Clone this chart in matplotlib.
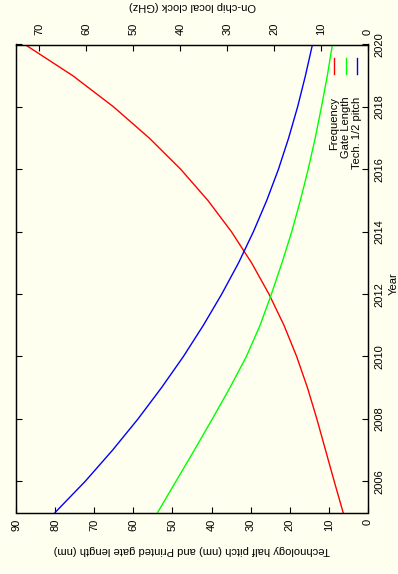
import matplotlib
matplotlib.use("Agg")
import matplotlib.pyplot as plt
from matplotlib.lines import Line2D

plt.rcParams['font.family'] = ['Liberation Sans', 'DejaVu Sans']

years = [2005, 2006, 2007, 2008, 2009, 2010, 2011, 2012, 2013, 2014,
         2015, 2016, 2017, 2018, 2019, 2020]
frequency_ghz = [5.3, 7.2, 9.05, 10.9, 12.9, 15.2, 17.9, 21.1, 24.8, 29.1,
                 34.1, 39.9, 46.6, 54.2, 62.9, 73.1]
gate_length_nm = [53.8, 49.1, 44.4, 39.8, 35.3, 31.1, 27.6, 24.7, 22.0, 19.5,
                  17.3, 15.3, 13.5, 11.9, 10.4, 9.1]
half_pitch_nm = [80.0, 72.3, 65.3, 58.8, 52.8, 47.2, 42.1, 37.4, 33.1, 29.3,
                 25.9, 22.9, 20.3, 18.0, 16.0, 14.2]
series_labels = ["Frequency", "Gate Length", "Tech. 1/2 pitch"]
series_colors = ["#ff0000", "#00ff00", "#0000ff"]
year_ticks = [2006, 2008, 2010, 2012, 2014, 2016, 2018, 2020]
nm_ticks = [0, 10, 20, 30, 40, 50, 60, 70, 80, 90]
ghz_ticks = [0, 10, 20, 30, 40, 50, 60, 70]

bg = "#fffff0"
W, H = 398, 574
fs = 8

fig = plt.figure(figsize=(W / 100, H / 100), dpi=100, facecolor=bg)
L, R, T, B = 16, 368, 44.5, 512.5
ax = fig.add_axes([L / W, (H - B) / H, (R - L) / W, (B - T) / H])
ax.set_facecolor(bg)
ax2 = ax.twiny()

ax2.plot(frequency_ghz, years, color=series_colors[0], lw=1.0)
ax.plot(gate_length_nm, years, color=series_colors[1], lw=1.0)
ax.plot(half_pitch_nm, years, color=series_colors[2], lw=1.0)
ax.set_zorder(2)
ax2.set_zorder(1)
ax.patch.set_visible(False)
ax2.patch.set_visible(True)
ax2.patch.set_facecolor(bg)

ax.set_xlim(90, 0)
ax.set_ylim(2005, 2020)
ax2.set_xlim(75, 0)

ax.set_xticks(nm_ticks)
ax.set_yticks(year_ticks)
ax2.set_xticks(ghz_ticks)

ax.tick_params(axis='x', direction='in', length=4.5, width=0.8, labelsize=fs,
               labelrotation=90, pad=4.5, bottom=True, top=False)
ax.tick_params(axis='y', direction='in', length=4.5, width=0.8, labelsize=fs,
               labelrotation=90, pad=4.5, left=True, right=True,
               labelleft=False, labelright=True)
ax2.tick_params(axis='x', direction='in', length=4.5, width=0.8, labelsize=fs,
                labelrotation=90, pad=6.5, top=True, bottom=False)
for lab in ax.get_yticklabels():
    lab.set_va('center')

for a in (ax, ax2):
    for s in a.spines.values():
        s.set_linewidth(0.9)
        s.set_color('black')

ax.set_xlabel("Technology half pitch (nm) and Printed gate length (nm)",
              fontsize=fs, rotation=180, va='center', ha='center')
ax.xaxis.set_label_coords(0.5, (B - 550) / (B - T))
ax2.set_xlabel("On-chip local clock (GHz)", fontsize=fs, rotation=180,
               va='center', ha='center')
ax2.xaxis.set_label_position('top')
ax2.xaxis.set_label_coords(0.5, (B - 9) / (B - T))
ax.yaxis.set_label_position('right')
ax.set_ylabel("Year", fontsize=fs, rotation=90, va='center', ha='center')
ax.yaxis.set_label_coords((393.5 - L) / (R - L), (B - 284) / (B - T))

# legend (rotated, gnuplot style)
leg_x = [334.3, 346.0, 357.3]
for x, lab, c in zip(leg_x, series_labels, series_colors):
    fig.add_artist(Line2D([x / W, x / W], [1 - 58 / H, 1 - 74 / H],
                          color=c, lw=1.0, transform=fig.transFigure))
    fig.text(x / W, 1 - 96.5 / H, lab, rotation=90, rotation_mode='anchor',
             ha='right', va='center', fontsize=fs)

fig.savefig("out.png", dpi=100, facecolor=bg)
